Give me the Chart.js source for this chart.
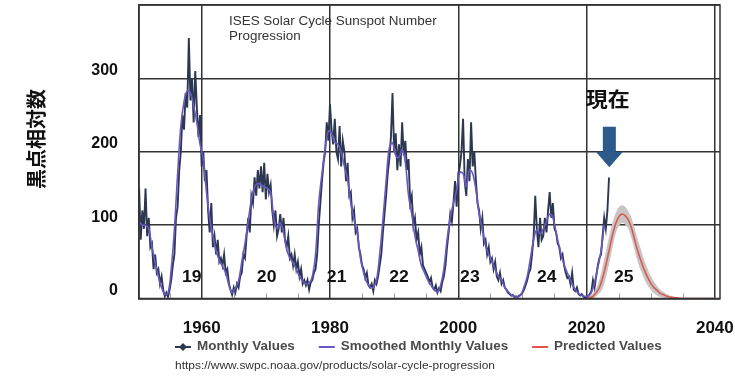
<!DOCTYPE html>
<html><head><meta charset="utf-8">
<script src="https://cdn.jsdelivr.net/npm/chart.js@4.4.0/dist/chart.umd.min.js"></script>
<style>html,body{margin:0;padding:0;background:#fff;overflow:hidden}#wrap{width:735px;height:378px;position:relative}</style>
</head><body><div id="wrap"><canvas id="c" width="735" height="378"></canvas></div>
<script>
// ---- data ----
const monthlyStart = 1950.25, monthlyStep = 0.25;
const monthlyValues = [
 150,80,120,95, 150,85,110,70, 75,40,60,35, 40,20,30,12, 3,8,2,12,
 25,45,60,110, 125,175,200,250, 230,280,260,355, 270,300,240,310, 260,220,250,180,
 200,160,175,120, 90,130,70,85, 60,80,50,55, 45,60,35,40, 20,12,5,15,
 8,20,15,30, 35,60,55,85, 110,90,140,130, 165,140,175,150, 180,145,185,135,
 170,145,155,120, 100,120,85,95, 115,90,110,80, 70,85,55,60, 45,60,40,50,
 30,40,20,25, 18,25,12,22, 25,35,40,60, 100,130,160,185, 200,240,215,265,
 230,210,245,200, 190,235,180,215, 200,160,185,140, 145,110,120,90, 95,70,60,45,
 40,28,35,18, 15,20,10,25, 20,30,45,60, 90,115,140,170, 190,220,280,200,
 225,175,210,180, 240,195,215,175, 190,130,140,100, 110,80,90,60, 70,45,40,35,
 30,22,28,15, 12,18,8,14, 10,22,30,45, 70,90,115,105, 130,160,125,170,
 180,200,245,160, 140,190,160,240, 180,200,160,130, 120,95,110,75, 80,60,70,50,
 55,40,50,30, 25,35,20,25, 15,12,8,6, 4,5,2,3, 2,4,5,8,
 12,18,25,35, 40,60,85,140, 95,70,110,80, 85,110,90,120, 145,110,130,95,
 90,75,70,55, 60,45,35,28, 30,20,35,12, 10,15,6,4, 6,3,1,2,
 3,6,10,25, 15,30,45,55, 60,85,110,95, 120,165
];
const smoothedStart = 1950.25, smoothedStep = 0.5;
const smoothedValues = [
 105,100, 100,95, 70,49, 30,15, 6,7, 40,95, 170,235, 268,283, 280,262, 240,210,
 190,145, 110,85, 65,52, 44,35, 18,8, 14,24, 50,75, 105,135, 152,157, 155,152,
 150,145, 110,95, 103,90, 67,55, 49,40, 30,24, 20,21, 30,60, 130,170, 205,228,
 225,213, 210,200, 180,162, 130,108, 90,55, 35,22, 16,15, 25,60, 107,160, 205,212,
 195,192, 203,185, 140,115, 85,65, 45,35, 25,18, 12,9, 18,40, 80,110, 130,148,
 172,170, 153,175, 170,148, 115,95, 72,60, 50,40, 30,25, 15,10, 5,3, 2,5,
 16,30, 55,80, 94,88, 95,105, 115,110, 90,70, 53,40, 30,20, 12,7, 4,3,
 3,8, 22,42, 65,100
];
const predictedStart = 2020, predictedStep = 0.5;
const predictedValues = [
 0,1,3,8,15,28,45,65,85,101,111,115,113,107,96,80,64,51,39,29,21,15,11,7,5,3,2,1,1,0,
 0,0,0,0,0,0,0,0,0,0,0
];
const predictedUpper = [
 1,3,7,14,26,44,64,84,102,115,124,127,125,119,110,95,80,66,52,41,31,23,17,12,9,6,4,3,2,1,
 1,1,1,1,1,1,1,1,1,1,1
];
const predictedLower = [
 0,0,0,3,7,14,28,46,67,87,98,103,101,95,82,65,49,37,27,18,12,7,4,2,1,0,0,0,0,0,
 0,0,0,0,0,0,0,0,0,0,0
];
const xTickYears = [1960, 1980, 2000, 2020, 2040];
const minorTickYears = [1955, 1965, 1970, 1975, 1985, 1990, 1995, 2005, 2010, 2015, 2025, 2030, 2035];
const yTickValues = [0, 100, 200, 300, 400];
const yTickLabels = ['0', '100', '200', '300', ''];
const cycleNumbers = ['19', '20', '21', '22', '23', '24', '25'];
const cycleYears = [1958.44, 1970.13, 1981.04, 1990.75, 2001.81, 2013.81, 2025.81];
const cycleLabelValue = 28;
const legendLabels = ['Monthly Values', 'Smoothed Monthly Values', 'Predicted Values'];
const titleLines = ['ISES Solar Cycle Sunspot Number', 'Progression'];
const yAxisTitle = '黒点相対数';
const nowLabel = '現在';
const nowYear = 2023.55;
const sourceUrl = 'https://www.swpc.noaa.gov/products/solar-cycle-progression';

// ---- styles ----
const C_MONTHLY = '#2b3850', C_SMOOTH = '#6a58c8', C_PRED = '#e0564c', C_BAND = '#c6c6c6';
const C_GRID = '#333333';
const F_ARIAL = '"Liberation Sans", Arial, Helvetica, sans-serif';
const STRETCH = 1.09;

const toPts = (start, step, arr) => arr.map((v, i) => ({x: start + i * step, y: v}));
const noPad = s => { s.paddingTop = 0; s.paddingBottom = 0; s.paddingLeft = 0; s.paddingRight = 0; };
function textX(ctx, t, x, y, sx) {
  ctx.save(); ctx.translate(x, y); ctx.scale(sx, 1); ctx.fillText(t, 0, 0); ctx.restore();
}

const decor = {
  id: 'decor',
  beforeDatasetsDraw(chart) {
    const {ctx, chartArea: a, scales: {x}} = chart;
    ctx.save();
    ctx.strokeStyle = '#9a9a9a'; ctx.lineWidth = 1;
    minorTickYears.forEach(v => {
      const px = Math.round(x.getPixelForValue(v)) + 0.5;
      ctx.beginPath(); ctx.moveTo(px, a.bottom); ctx.lineTo(px, a.bottom - 5); ctx.stroke();
    });
    ctx.restore();
  },
  afterDraw(chart) {
    const {ctx, chartArea: a, scales: {x, y}} = chart;
    ctx.save();
    ctx.strokeStyle = C_GRID; ctx.lineWidth = 1.5;
    ctx.strokeRect(a.left, a.top, a.right - a.left, a.bottom - a.top);
    // title
    ctx.fillStyle = '#333'; ctx.font = '12.5px ' + F_ARIAL; ctx.textAlign = 'left'; ctx.textBaseline = 'alphabetic';
    textX(ctx, titleLines[0], 229, 24.5, 1.075);
    textX(ctx, titleLines[1], 229, 40, 1.075);
    // cycle numbers
    ctx.fillStyle = '#111'; ctx.font = 'bold 16px ' + F_ARIAL; ctx.textAlign = 'center'; ctx.textBaseline = 'middle';
    cycleNumbers.forEach((t, i) => textX(ctx, t, x.getPixelForValue(cycleYears[i]), y.getPixelForValue(cycleLabelValue), 1.1));
    // now label + arrow
    const ax = x.getPixelForValue(nowYear);
    ctx.fillStyle = '#111'; ctx.font = 'bold 20px "Noto Sans CJK JP", sans-serif';
    textX(ctx, nowLabel, ax - 1.5, 99, 1.1);
    ctx.fillStyle = '#2d5a8a';
    const yTop = y.getPixelForValue(234), yMid = y.getPixelForValue(200), yTip = y.getPixelForValue(179);
    ctx.beginPath();
    ctx.moveTo(ax - 6.5, yTop); ctx.lineTo(ax + 6.5, yTop); ctx.lineTo(ax + 6.5, yMid);
    ctx.lineTo(ax + 13.5, yMid); ctx.lineTo(ax, yTip); ctx.lineTo(ax - 13.5, yMid); ctx.lineTo(ax - 6.5, yMid);
    ctx.closePath(); ctx.fill();
    // y axis title
    ctx.save();
    ctx.translate(36, 139); ctx.rotate(-Math.PI / 2);
    ctx.fillStyle = '#111'; ctx.font = 'bold 20px "Noto Sans CJK JP", sans-serif';
    ctx.textAlign = 'center'; ctx.textBaseline = 'middle';
    ctx.fillText(yAxisTitle, 0, 0);
    ctx.restore();
    // legend
    const colors = [C_MONTHLY, C_SMOOTH, C_PRED];
    ctx.font = 'bold 12px ' + F_ARIAL; ctx.textAlign = 'left'; ctx.textBaseline = 'middle';
    const lsx = 1.12;
    let lx = 175; const ly = 347;
    legendLabels.forEach((t, i) => {
      ctx.strokeStyle = colors[i]; ctx.lineWidth = 2;
      ctx.beginPath(); ctx.moveTo(lx, ly); ctx.lineTo(lx + 16, ly); ctx.stroke();
      if (i === 0) {
        ctx.fillStyle = colors[i];
        ctx.beginPath(); ctx.moveTo(lx + 8, ly - 4); ctx.lineTo(lx + 12, ly); ctx.lineTo(lx + 8, ly + 4); ctx.lineTo(lx + 4, ly); ctx.closePath(); ctx.fill();
      }
      ctx.fillStyle = '#4a4a4a';
      textX(ctx, t, lx + 22, ly, lsx);
      lx += 22 + ctx.measureText(t).width * lsx + 24;
    });
    // source
    ctx.fillStyle = '#333'; ctx.font = '10px ' + F_ARIAL;
    const uw = ctx.measureText(sourceUrl).width;
    textX(ctx, sourceUrl, 175, 366, 320 / uw);
    ctx.restore();
  }
};

new Chart(document.getElementById('c'), {
  type: 'line',
  data: {
    datasets: [
      {label: 'band-lower', data: toPts(predictedStart, predictedStep, predictedLower), borderWidth: 0, borderColor: 'rgba(0,0,0,0)', pointRadius: 0, fill: false, tension: 0.4, order: 5},
      {label: 'band-upper', data: toPts(predictedStart, predictedStep, predictedUpper), borderWidth: 0, borderColor: 'rgba(0,0,0,0)', pointRadius: 0, fill: '-1', backgroundColor: C_BAND, tension: 0.4, order: 5},
      {label: legendLabels[0], data: toPts(monthlyStart, monthlyStep, monthlyValues), borderColor: C_MONTHLY, borderWidth: 1.9, pointRadius: 0, tension: 0, order: 4},
      {label: legendLabels[1], data: toPts(smoothedStart, smoothedStep, smoothedValues), borderColor: C_SMOOTH, borderWidth: 1.6, pointRadius: 0, tension: 0.4, order: 3},
      {label: legendLabels[2], data: toPts(predictedStart, predictedStep, predictedValues), borderColor: C_PRED, borderWidth: 1.6, pointRadius: 0, tension: 0.4, order: 2}
    ]
  },
  options: {
    responsive: false, animation: false,
    layout: {padding: {left: 0, right: 15, top: 5, bottom: 0}},
    plugins: {legend: {display: false}, tooltip: {enabled: false}},
    scales: {
      x: {
        type: 'linear', min: 1950.23, max: 2040.8,
        afterBuildTicks: s => { s.ticks = xTickYears.map(v => ({value: v})); },
        afterFit: s => { s.height = 79.5; noPad(s); },
        grid: {color: C_GRID, lineWidth: 1.5, drawTicks: false},
        border: {display: true, color: C_GRID, width: 1.5},
        ticks: {padding: 20, autoSkip: false, maxRotation: 0, color: '#111', font: {family: F_ARIAL, size: 17, weight: 'bold'}, callback: v => String(v)}
      },
      y: {
        min: 0, max: 400,
        afterBuildTicks: s => { s.ticks = yTickValues.map(v => ({value: v})); },
        afterFit: s => { s.width = 139; noPad(s); },
        grid: {color: C_GRID, lineWidth: 1.5, drawTicks: false},
        border: {display: true, color: C_GRID, width: 1.5},
        ticks: {padding: 21, labelOffset: -8, color: '#111', font: {family: F_ARIAL, size: 16, weight: 'bold'}, callback: v => yTickLabels[yTickValues.indexOf(v)]}
      }
    }
  },
  plugins: [decor]
});
</script>
</body></html>
